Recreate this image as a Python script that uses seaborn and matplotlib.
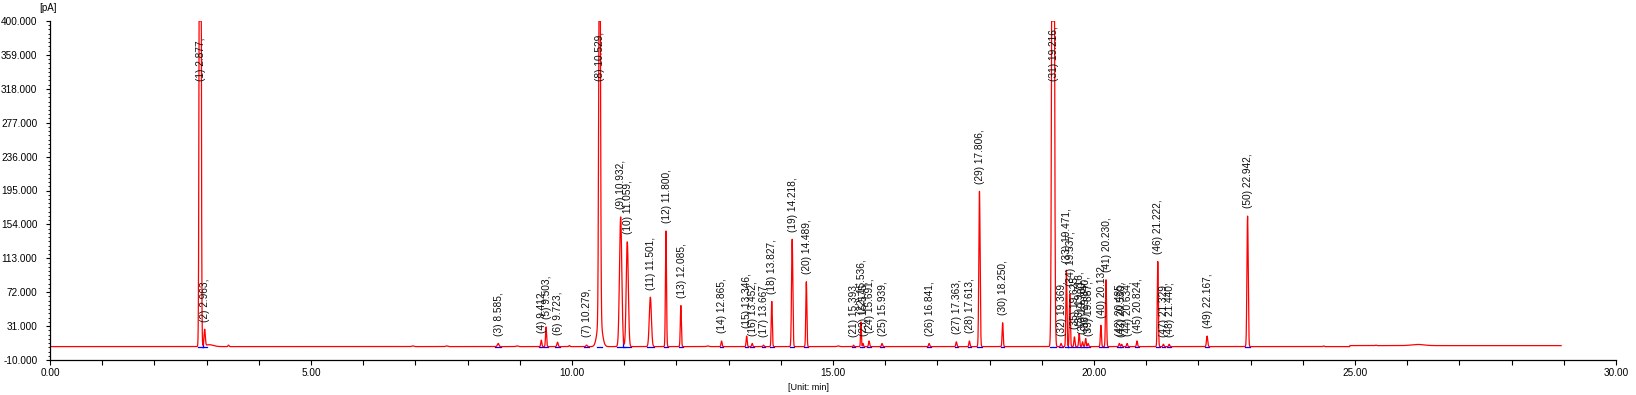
import numpy as np
import pandas as pd
import matplotlib
matplotlib.use("Agg")
import matplotlib.pyplot as plt
import seaborn as sns
from matplotlib.ticker import FixedLocator, MultipleLocator, AutoMinorLocator

# --- peak table (retention time [min], apex [pA], width sigma [min]) ---
peak_no = list(range(1, 51))
peak_rt = [2.877, 2.963, 8.585, 9.412, 9.503, 9.723, 10.279, 10.529, 10.932, 11.059,
           11.501, 11.800, 12.085, 12.865, 13.346, 13.452, 13.667, 13.827, 14.218, 14.489,
           15.393, 15.536, 15.575, 15.691, 15.939, 16.841, 17.363, 17.613, 17.806, 18.250,
           19.216, 19.369, 19.471, 19.537, 19.625, 19.716, 19.780, 19.840, 19.887, 20.132,
           20.230, 20.485, 20.530, 20.634, 20.824, 21.222, 21.329, 21.440, 22.167, 22.942]
peak_apex = [1800, 26, 10, 14, 30, 11.5, 8, 700, 163, 133,
             66, 146, 56, 13, 19, 10, 8, 61, 136, 85,
             8, 36, 10, 13, 10, 10, 12, 13, 194, 35,
             1500, 10, 99, 70, 18, 22, 12, 16, 10, 32,
             87, 10, 9, 10, 13, 109, 9, 9, 19, 164]
peak_sigma = [0.013, 0.012, 0.015, 0.010, 0.010, 0.012, 0.012, 0.014, 0.022, 0.020,
              0.020, 0.010, 0.010, 0.010, 0.010, 0.010, 0.010, 0.010, 0.012, 0.010,
              0.008, 0.008, 0.008, 0.010, 0.010, 0.010, 0.010, 0.010, 0.012, 0.010,
              0.018, 0.010, 0.010, 0.010, 0.010, 0.010, 0.010, 0.010, 0.010, 0.010,
              0.010, 0.010, 0.010, 0.010, 0.010, 0.010, 0.010, 0.010, 0.012, 0.012]

# small unlabelled blips on the baseline (broad foot of peak 8 included)
blip_rt = [3.05, 3.42, 6.95, 7.60, 8.95, 9.95, 10.53, 12.60, 15.10, 24.40, 25.40, 26.20]
blip_apex = [8.5, 8.0, 7.0, 7.0, 7.0, 7.5, 40.0, 7.0, 7.0, 7.0, 8.0, 8.8]
blip_sigma = [0.08, 0.01, 0.02, 0.02, 0.02, 0.01, 0.045, 0.02, 0.02, 0.01, 0.01, 0.12]

# baseline level (pA) and where the run starts / shifts / ends (min)
base_edges = [0.0, 24.9, 28.95]
base_levels = [6.2, 7.4]

# valleys where the integrator drops a blue perpendicular
drop_rt = [10.985, 19.505, 2.94]

y_ticks = [-10, 31, 72, 113, 154, 195, 236, 277, 318, 359, 400]
x_ticks = [0, 5, 10, 15, 20, 25, 30]

plt.rcParams['font.family'] = ['Liberation Sans', 'DejaVu Sans']

# --- build the detector trace from the peak table ---
t = np.arange(base_edges[0], base_edges[-1], 0.002)
baseline = np.where(t < base_edges[1], base_levels[0], base_levels[1])
signal = baseline.copy()
for rt, apex, sg in zip(peak_rt + blip_rt, peak_apex + blip_apex, peak_sigma + blip_sigma):
    lvl = base_levels[0] if rt < base_edges[1] else base_levels[1]
    signal += (apex - lvl) * np.exp(-0.5 * ((t - rt) / sg) ** 2)
shown = np.minimum(signal, 400.0)

df = pd.DataFrame({'time': t, 'pA': shown})

fig = plt.figure(figsize=(16.36, 3.95), dpi=100)
ax = fig.add_axes([50 / 1636, 35 / 395, 1566 / 1636, 339 / 395])

# integration baselines (blue) sit underneath the red trace
for rt, sg in zip(peak_rt, peak_sigma):
    lvl = base_levels[0] if rt < base_edges[1] else base_levels[1]
    ax.plot([rt - 3.5 * sg, rt + 3.5 * sg], [lvl, lvl], color='#0000ff', lw=0.9, zorder=1)
for rt in drop_rt:
    ax.plot([rt, rt], [base_levels[0], np.interp(rt, t, shown)], color='#0000ff', lw=0.9, zorder=1)

sns.lineplot(data=df, x='time', y='pA', color='#ff0000', linewidth=0.9,
             estimator=None, sort=False, ax=ax, zorder=2)

# peak labels
for n, rt in zip(peak_no, peak_rt):
    top = np.interp(rt, t, signal)
    ya = 318 if top >= 400 else top
    ax.annotate(f"({n}) {rt:.3f},", xy=(rt, ya), xytext=(0.5, 5.5),
                textcoords='offset points', rotation=90, ha='center', va='bottom',
                fontsize=7.3, color='#101010', zorder=3)

ax.set_xlim(0, 30)
ax.set_ylim(-10, 400)
ax.yaxis.set_major_locator(FixedLocator(y_ticks))
ax.yaxis.set_minor_locator(AutoMinorLocator(8))
ax.set_yticklabels([f"{v:.3f}" for v in y_ticks], fontsize=7.2)
ax.xaxis.set_major_locator(FixedLocator(x_ticks))
ax.xaxis.set_minor_locator(MultipleLocator(1))
ax.set_xticklabels([f"{v:.2f}" for v in x_ticks], fontsize=7.2)
ax.tick_params(axis='y', which='major', length=3, width=0.8, pad=6)
ax.tick_params(axis='y', which='minor', length=1.5, width=0.6)
ax.tick_params(axis='x', which='both', length=3.5, width=0.8, pad=2)
ax.set_xlabel('')
ax.set_ylabel('')
for side in ['top', 'right']:
    ax.spines[side].set_visible(False)
for side in ['left', 'bottom']:
    ax.spines[side].set_linewidth(0.9)

fig.text(808 / 1636, 1 - 388 / 395, '[Unit: min]', ha='center', va='center', fontsize=6.5)
fig.text(48 / 1636, 1 - 8 / 395, '[pA]', ha='center', va='center', fontsize=7)

fig.savefig('out.png', dpi=100)
